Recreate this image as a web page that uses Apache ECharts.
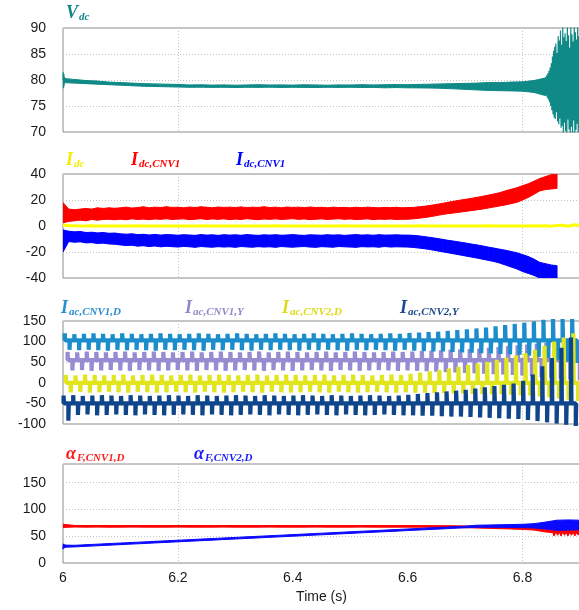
<!DOCTYPE html>
<html>
<head>
<meta charset="utf-8">
<script src="https://cdn.jsdelivr.net/npm/echarts@6/dist/echarts.min.js"></script>
<style>
  html, body { margin: 0; padding: 0; background: #ffffff; }
  #chart { width: 579px; height: 610px; }
</style>
</head>
<body>
<div id="chart"></div>
<script>
// ---------------- time axis ----------------
const timeRange = [6.0, 6.9, 0.2];          // min, max, tick step (s)
const timeAxisName = 'Time (s)';

// ---------------- panel 1: DC link voltage ----------------
const vdcRange = [70, 90, 5];
const vdcStep = 0.02;                        // envelope sample step from 6.00 s
const vdcLow = [79.5, 79.4, 79.3, 79.2, 79.1, 79.0, 78.9, 78.8, 78.75, 78.7,
  78.65, 78.6, 78.62, 78.58, 78.6, 78.55, 78.6, 78.58, 78.62, 78.56,
  78.6, 78.58, 78.55, 78.6, 78.57, 78.6, 78.55, 78.58, 78.5, 78.55,
  78.5, 78.48, 78.45, 78.4, 78.3, 78.2, 78.1, 78.0, 77.95, 77.9,
  77.85, 77.6, 77.0];
const vdcHigh = [80.3, 80.1, 79.9, 79.8, 79.6, 79.5, 79.4, 79.3, 79.25, 79.2,
  79.15, 79.05, 79.08, 79.02, 79.06, 79.0, 79.05, 79.1, 79.04, 79.06,
  79.02, 79.08, 79.05, 79.0, 79.06, 79.04, 79.1, 79.05, 79.1, 79.12,
  79.1, 79.15, 79.2, 79.25, 79.3, 79.35, 79.4, 79.5, 79.5, 79.6,
  79.65, 79.9, 80.4];
const vdcStart = [80.0, 81.5, 78.4, 81.2, 78.9, 80.6, 79.5, 80.2];      // from 6.000 s, 0.5 ms
const vdcBurst = [80.6, 77.0, 80.9, 76.6, 81.3, 76.2, 81.8, 75.7, 82.4, 75.0, 83.2,
  74.2, 84.5, 73.4, 85.6, 72.8, 86.4, 72.5, 87.0, 73.8, 85.2,
  72.0, 88.4, 71.5, 87.6, 72.6, 89.5, 70.8, 86.8, 71.2, 90.5,
  69.5, 88.2, 71.8, 89.0, 70.2, 87.5, 69.0, 91.0, 72.4, 88.6,
  70.5, 86.2, 69.2, 90.2, 71.0, 88.8, 69.6, 87.4, 72.2, 90.8,
  68.8, 89.2, 70.4, 87.8, 71.6, 91.2, 69.4, 88.4, 70.8, 86.6];          // from 6.840 s, 1 ms

// ---------------- panel 2: DC currents ----------------
const idcRange = [-40, 40, 20];
const idcStep = 0.01;
const idcTotal = [0.8, 0.2, 0.1, 0, 0, 0.1, 0, 0, 0, 0,
  0, 0, 0, 0.1, 0, 0, 0, 0, 0, 0,
  0, 0, 0, 0, 0, 0.1, 0, 0, 0, 0,
  0, 0, 0, 0, 0, 0, 0, 0.1, 0, 0,
  0, 0, 0, 0, 0, 0, 0, 0, 0, 0.1,
  0, 0, 0, 0, 0, 0, 0, 0, 0, 0,
  0, 0, 0.1, 0, 0, 0, 0, 0, 0, 0,
  0, 0, 0, 0, 0.1, 0, 0, 0, 0, 0,
  0, 0, 0.1, 0, 0.2, -0.1, 0.3, 0.5, -0.2, 0.9, 0.4];
const idcCnv1High = [18.0, 13.0, 12.5, 13.0, 13.5, 13.0, 14.0, 13.5, 14.0, 13.6,
  14.0, 14.5, 13.8, 14.2, 14.8, 14.0, 14.5, 14.2, 14.8, 14.3,
  14.5, 14.0, 14.6, 14.2, 14.8, 14.4, 14.0, 14.6, 14.3, 14.5,
  14.2, 14.7, 14.1, 14.5, 14.3, 14.8, 14.2, 14.5, 14.0, 14.6,
  14.3, 14.5, 14.1, 14.6, 14.2, 14.4, 14.0, 14.5, 14.2, 14.3,
  14.0, 14.4, 14.1, 14.5, 14.2, 14.0, 14.3, 14.1, 14.4, 14.0,
  14.2, 14.3, 14.8, 15.2, 15.9, 16.6, 17.4, 18.2, 19.0, 19.8,
  20.5, 21.2, 22.0, 22.8, 23.7, 24.6, 25.6, 27.0, 28.2, 29.4,
  31.0, 32.5, 34.5, 36.5, 38.0, 39.5, 41.0];
const idcCnv1Low = [2.5, 3.5, 4.0, 4.5, 4.0, 5.0, 4.5, 5.0, 5.2, 4.8,
  5.2, 4.8, 5.5, 5.0, 5.3, 4.9, 5.4, 5.1, 5.6, 5.0,
  5.3, 5.5, 4.9, 5.2, 5.6, 5.0, 5.4, 5.1, 5.5, 4.9,
  5.3, 5.0, 5.6, 5.2, 4.9, 5.4, 5.1, 5.5, 5.0, 5.3,
  5.6, 5.1, 5.4, 4.9, 5.2, 5.5, 5.0, 5.3, 5.6, 5.1,
  5.4, 5.0, 5.2, 5.5, 4.9, 5.3, 5.1, 5.4, 5.0, 5.2,
  5.2, 5.5, 6.0, 6.5, 7.2, 8.0, 8.8, 9.5, 10.0, 10.6,
  11.2, 11.8, 12.4, 13.0, 13.8, 14.6, 15.4, 16.2, 17.2, 18.2,
  20.0, 22.0, 24.5, 27.0, 28.0, 28.5, 29.0];
const idcCnv2High = [-3.0, -4.0, -4.5, -4.2, -5.0, -4.8, -5.3, -5.0, -5.6, -5.4,
  -6.0, -6.3, -6.0, -6.6, -6.4, -6.9, -6.5, -7.0, -6.6, -6.8,
  -7.1, -6.7, -6.9, -7.2, -6.6, -7.0, -6.8, -7.2, -6.7, -7.0,
  -6.8, -7.1, -6.6, -6.9, -7.2, -6.8, -7.0, -6.7, -7.1, -6.9,
  -6.6, -7.0, -7.2, -6.8, -6.9, -7.1, -6.7, -7.0, -6.8, -7.2,
  -6.9, -6.6, -7.0, -6.8, -7.1, -6.7, -7.0, -6.9, -6.8, -7.0,
  -7.0, -7.2, -7.6, -8.2, -8.8, -9.5, -10.2, -11.0, -11.6, -12.3,
  -13.0, -13.8, -14.5, -15.3, -16.2, -17.0, -17.8, -18.6, -19.6, -20.6,
  -22.0, -23.5, -25.5, -28.0, -29.0, -30.0, -30.5];
const idcCnv2Low = [-20.0, -12.0, -12.5, -12.2, -13.0, -12.8, -13.4, -13.2, -13.8, -14.0,
  -14.6, -15.0, -14.8, -15.5, -15.2, -15.8, -15.4, -16.0, -15.6, -15.9,
  -16.2, -15.7, -16.0, -16.4, -15.8, -16.1, -16.3, -15.9, -16.2, -16.0,
  -16.4, -15.8, -16.1, -16.3, -15.9, -16.2, -16.0, -16.4, -15.8, -16.1,
  -16.3, -16.0, -15.8, -16.2, -16.4, -15.9, -16.1, -16.3, -15.8, -16.0,
  -16.2, -16.4, -15.9, -16.1, -16.0, -16.3, -15.8, -16.2, -16.0, -16.1,
  -16.2, -16.5, -17.0, -17.5, -18.2, -19.0, -19.8, -20.6, -21.4, -22.2,
  -23.0, -23.8, -24.6, -25.5, -26.4, -27.3, -28.5, -30.0, -31.5, -33.0,
  -35.0, -36.5, -38.0, -40.0, -41.0, -42.0, -42.0];

// ---------------- panel 3: AC currents (per-cycle peaks) ----------------
const iacRange = [-100, 150, 50];
const acPeriod = 1 / 60;
const acBaseline = [103, 55, 0, -50];        // CNV1 D, CNV1 Y, CNV2 D, CNV2 Y
const acCnv1DUp = [120, 118, 119, 120, 119, 118, 120, 119, 118, 119,
  120, 119, 118, 119, 120, 119, 118, 119, 120, 119,
  118, 119, 120, 119, 118, 119, 120, 119, 118, 119,
  120, 119, 118, 119, 120, 119, 121, 122, 123, 124,
  126, 128, 130, 132, 134, 137, 140, 143, 146, 149,
  153, 156, 158, 160];
const acCnv1DDown = [80, 79, 80, 79, 78, 80, 79, 80, 79, 78,
  80, 79, 80, 79, 78, 80, 79, 80, 79, 78,
  80, 79, 80, 79, 78, 80, 79, 80, 79, 78,
  80, 79, 80, 79, 78, 80, 78, 77, 76, 76,
  75, 74, 73, 72, 71, 70, 69, 68, 66, 63,
  60, 56, 52, 48];
const acCnv1YUp = [75, 74, 76, 75, 74, 75, 76, 74, 75, 76,
  75, 74, 75, 76, 74, 75, 76, 75, 74, 75,
  76, 74, 75, 76, 75, 74, 75, 76, 74, 75,
  76, 75, 74, 75, 76, 75, 76, 77, 78, 79,
  80, 81, 82, 83, 85, 87, 89, 91, 93, 95,
  97, 99, 101, 103];
const acCnv1YDown = [30, 31, 29, 30, 31, 30, 29, 31, 30, 29,
  30, 31, 30, 29, 31, 30, 29, 30, 31, 30,
  29, 31, 30, 29, 30, 31, 30, 29, 31, 30,
  29, 30, 31, 30, 29, 30, 29, 28, 27, 26,
  25, 24, 23, 22, 21, 20, 19, 18, 16, 14,
  12, 10, 8, 6];
const acCnv2DUp = [19, 18, 20, 19, 18, 19, 20, 18, 19, 20,
  19, 18, 19, 20, 18, 19, 20, 19, 18, 19,
  20, 18, 19, 20, 19, 18, 19, 20, 18, 19,
  20, 19, 18, 19, 20, 19, 22, 25, 28, 31,
  35, 39, 43, 47, 51, 56, 61, 66, 72, 80,
  90, 100, 110, 120];
const acCnv2DDown = [-23, -22, -24, -23, -22, -23, -24, -22, -23, -24,
  -23, -22, -23, -24, -22, -23, -24, -23, -22, -23,
  -24, -22, -23, -24, -23, -22, -23, -24, -22, -23,
  -24, -23, -22, -23, -24, -23, -24, -24, -25, -25,
  -26, -26, -27, -27, -28, -28, -29, -30, -31, -33,
  -35, -38, -41, -44];
const acCnv2YUp = [-31, -30, -32, -31, -30, -31, -32, -30, -31, -32,
  -31, -30, -31, -32, -30, -31, -32, -31, -30, -31,
  -32, -30, -31, -32, -31, -30, -31, -32, -30, -31,
  -32, -31, -30, -31, -32, -31, -29, -27, -25, -23,
  -21, -19, -17, -14, -11, -8, -5, -2, 5, 20,
  40, 60, 85, 110];
const acCnv2YDown = [-92, -78, -77, -79, -78, -77, -78, -79, -77, -78,
  -79, -78, -77, -78, -79, -77, -78, -79, -78, -77,
  -78, -79, -77, -78, -79, -78, -77, -78, -79, -77,
  -78, -79, -78, -77, -78, -79, -79, -80, -80, -81,
  -82, -82, -83, -84, -85, -86, -87, -88, -90, -93,
  -96, -99, -102, -105];

// ---------------- panel 4: firing angles ----------------
const alphaRange = [0, 185, 50];
const alphaStep = 0.02;
const alphaCnv1Low = [66.5, 67.2, 67.0, 67.1, 66.9, 67.0, 67.1, 67.0, 66.9, 67.0,
  67.1, 67.0, 66.9, 67.0, 67.1, 67.0, 66.9, 67.0, 67.1, 67.0,
  66.9, 67.0, 67.1, 67.0, 66.9, 67.0, 67.1, 67.0, 66.9, 67.0,
  67.0, 66.9, 66.8, 66.7, 66.6, 66.0, 65.4, 64.8, 64.2, 63.6,
  62.8, 61.5, 58.0, 56.0, 55.5, 55.0];
const alphaCnv1High = [72.5, 70.2, 70.0, 70.1, 70.0, 69.9, 70.0, 70.1, 70.0, 69.9,
  70.0, 70.1, 70.0, 69.9, 70.0, 70.1, 70.0, 69.9, 70.0, 70.1,
  70.0, 69.9, 70.0, 70.1, 70.0, 69.9, 70.0, 70.1, 70.0, 69.9,
  70.0, 69.9, 69.8, 69.7, 69.6, 69.2, 68.8, 68.4, 68.0, 67.8,
  67.6, 67.8, 68.5, 69.0, 69.5, 70.0];
const alphaCnv2Low = [29.5, 30.1, 31.2, 32.2, 33.3, 34.3, 35.4, 36.4, 37.5, 38.5,
  39.6, 40.6, 41.7, 42.7, 43.8, 44.8, 45.9, 46.9, 48.0, 49.0,
  50.1, 51.1, 52.2, 53.2, 54.3, 55.3, 56.4, 57.4, 58.5, 59.5,
  60.6, 61.6, 62.7, 63.7, 64.8, 65.8, 66.8, 66.8, 66.6, 66.4,
  66.0, 65.5, 63.5, 61.0, 61.5, 62.0];
const alphaCnv2High = [33.5, 33.1, 34.2, 35.2, 36.3, 37.3, 38.4, 39.4, 40.5, 41.5,
  42.6, 43.6, 44.7, 45.7, 46.8, 47.8, 48.9, 49.9, 51.0, 52.0,
  53.1, 54.1, 55.2, 56.2, 57.3, 58.3, 59.4, 60.4, 61.5, 62.5,
  63.6, 64.6, 65.7, 66.7, 67.8, 68.8, 70.6, 71.0, 71.4, 71.8,
  72.4, 73.5, 76.5, 80.0, 80.5, 80.0];
const alphaCnv2Start = [26.0, 36.0, 28.0, 34.5, 29.5, 33.0];            // from 6.000 s, 1 ms
const alphaCnv1Teeth = [62, 51, 64, 52, 63, 51, 65, 52, 63, 51, 64, 52, 62, 51, 63, 52];   // from 6.852 s, 3 ms

// ---------------- trace labels ----------------
const panelLabels = [
  [{ main: 'V', sub: 'dc', color: '#12888a', x: 66, y: 3 }],
  [{ main: 'I', sub: 'dc', color: '#f2ee00', x: 66, y: 150 },
   { main: 'I', sub: 'dc,CNV1', color: '#ff0000', x: 131, y: 150 },
   { main: 'I', sub: 'dc,CNV1', color: '#0000ff', x: 236, y: 150 }],
  [{ main: 'I', sub: 'ac,CNV1,D', color: '#2a8fcf', x: 61, y: 298 },
   { main: 'I', sub: 'ac,CNV1,Y', color: '#9089c9', x: 185, y: 298 },
   { main: 'I', sub: 'ac,CNV2,D', color: '#dcdc18', x: 282, y: 298 },
   { main: 'I', sub: 'ac,CNV2,Y', color: '#1c4a8c', x: 400, y: 298 }],
  [{ main: '\u03B1', sub: 'F,CNV1,D', color: '#ff1a1a', x: 66, y: 444 },
   { main: '\u03B1', sub: 'F,CNV2,D', color: '#1a1aff', x: 194, y: 444 }]
];

// ---------------- helpers ----------------
function sampled(values, t0, dt) {
  return values.map((v, i) => [t0 + i * dt, v]);
}

function lineSeries(data, color, g, width, z) {
  return {
    type: 'line', xAxisIndex: g, yAxisIndex: g, data,
    showSymbol: false, symbol: 'none', clip: true, silent: true,
    lineStyle: { color, width }, z: z || 2
  };
}

// noisy trace drawn as a filled envelope between its lower and upper bounds
function band(low, high, t0, dt, color, g, z) {
  const data = low.map((l, i) => [t0 + i * dt, l, high[i]]);
  return {
    type: 'custom', xAxisIndex: g, yAxisIndex: g, z, silent: true, clip: true,
    encode: { x: 0, y: [1, 2] },
    data,
    renderItem(params, api) {
      const i = params.dataIndex;
      if (i >= data.length - 1) return null;
      const a = data[i], b = data[i + 1];
      const pts = [
        api.coord([a[0], a[1]]), api.coord([a[0], a[2]]),
        api.coord([b[0], b[2]]), api.coord([b[0], b[1]])
      ];
      return {
        type: 'polygon',
        shape: { points: echarts.graphic.clipPointsByRect(pts, params.coordSys) },
        style: { fill: color, stroke: color, lineWidth: 1 }
      };
    }
  };
}

// AC current: baseline with one positive and one negative spike per cycle
function pulseTrain(base, ups, downs, t0, period) {
  const pts = [];
  const w = 0.0008;
  ups.forEach((u, k) => {
    const t = t0 + k * period;
    const th = t + period / 2;
    pts.push([t, base], [t, u], [t + w, u], [t + w, base],
             [th, base], [th, downs[k]], [th + w, downs[k]], [th + w, base]);
  });
  return pts;
}

// ---------------- layout ----------------
const grids = [
  { top: 28, height: 104 },
  { top: 174, height: 104 },
  { top: 321, height: 103 },
  { top: 464, height: 99 }
].map(g => Object.assign({
  left: 63, right: -1, show: true, borderColor: '#8c8c8c', borderWidth: 1,
  backgroundColor: 'transparent', containLabel: false, outerBoundsMode: 'none'
}, g));

const gridLineColor = '#c4c4c4';
const hidden = 'rgba(0,0,0,0)';
const xAxes = grids.map((g, i) => ({
  type: 'value', gridIndex: i,
  min: timeRange[0], max: timeRange[1], interval: timeRange[2],
  axisLine: { show: false }, axisTick: { show: false },
  axisLabel: {
    show: i === 3, showMaxLabel: false, margin: 8,
    fontSize: 14, color: '#1a1a1a', fontFamily: 'Liberation Sans, Arial, sans-serif',
    formatter: v => String(+v.toFixed(1))
  },
  name: i === 3 ? timeAxisName : '',
  nameLocation: 'middle', nameGap: 27, nameMoveOverlap: false,
  nameTextStyle: { fontSize: 14, color: '#1a1a1a', fontFamily: 'Liberation Sans, Arial, sans-serif' },
  splitLine: {
    show: true,
    lineStyle: { color: [hidden, gridLineColor, hidden, hidden, gridLineColor, hidden], type: [1, 2], width: 1 }
  }
}));

const ranges = [vdcRange, idcRange, iacRange, alphaRange];
const yAxes = ranges.map((r, i) => ({
  type: 'value', gridIndex: i, min: r[0], max: r[1], interval: r[2],
  axisLine: { show: false }, axisTick: { show: false },
  axisLabel: {
    margin: 17, fontSize: 14, color: '#1a1a1a', showMaxLabel: i !== 3,
    fontFamily: 'Liberation Sans, Arial, sans-serif'
  },
  splitLine: { show: true, lineStyle: { color: gridLineColor, type: [1, 2], width: 1 } }
}));

// ---------------- series ----------------
const series = [];
// panel 1
series.push(band(vdcLow, vdcHigh, 6.0, vdcStep, '#0f8a86', 0, 2));
series.push(lineSeries(sampled(vdcStart, 6.0, 0.0005), '#0f8a86', 0, 1.2, 3));
series.push(lineSeries(sampled(vdcBurst, 6.84, 0.001), '#0f8a86', 0, 1.2, 3));
// panel 2
series.push(band(idcCnv1Low, idcCnv1High, 6.0, idcStep, '#ff0000', 1, 2));
series.push(band(idcCnv2Low, idcCnv2High, 6.0, idcStep, '#0000ff', 1, 2));
series.push(lineSeries(sampled(idcTotal, 6.0, idcStep), '#ffff00', 1, 3, 3));
// panel 3
series.push(lineSeries(pulseTrain(acBaseline[1], acCnv1YUp, acCnv1YDown, 6.008, acPeriod), '#968cd2', 2, 4.2, 2));
series.push(lineSeries(pulseTrain(acBaseline[0], acCnv1DUp, acCnv1DDown, 6.003, acPeriod), '#1b8dcc', 2, 4.2, 3));
series.push(lineSeries(pulseTrain(acBaseline[2], acCnv2DUp, acCnv2DDown, 6.005, acPeriod), '#e0e51e', 2, 4.2, 4));
series.push(lineSeries(pulseTrain(acBaseline[3], acCnv2YUp, acCnv2YDown, 6.001, acPeriod), '#0e458b', 2, 4.2, 5));
// panel 4
series.push(band(alphaCnv1Low, alphaCnv1High, 6.0, alphaStep, '#ff0000', 3, 2));
series.push(lineSeries(sampled(alphaCnv1Teeth, 6.852, 0.003), '#ff0000', 3, 1.5, 2));
series.push(band(alphaCnv2Low, alphaCnv2High, 6.0, alphaStep, '#0a0aff', 3, 3));
series.push(lineSeries(sampled(alphaCnv2Start, 6.0, 0.001), '#0a0aff', 3, 1.5, 3));

// ---------------- trace labels (italic symbol + subscript) ----------------
const graphic = [];
panelLabels.forEach(row => row.forEach(l => {
  graphic.push({
    type: 'text', x: l.x, y: l.y, silent: true, z: 10,
    style: {
      text: '{m|' + l.main + '}{s|' + l.sub + '}',
      fill: l.color,
      rich: {
        m: { fontFamily: 'Liberation Serif, Times New Roman, serif', fontStyle: 'italic', fontWeight: 'bold',
             fontSize: 18, lineHeight: 20, fill: l.color },
        s: { fontFamily: 'Liberation Serif, Times New Roman, serif', fontStyle: 'italic', fontWeight: 'bold',
             fontSize: 11, lineHeight: 11, padding: [9, 0, 0, 1], fill: l.color }
      }
    }
  });
}));

const chart = echarts.init(document.getElementById('chart'), null, { renderer: 'canvas' });
chart.setOption({
  animation: false,
  backgroundColor: '#ffffff',
  textStyle: { fontFamily: 'Liberation Sans, Arial, sans-serif' },
  grid: grids,
  xAxis: xAxes,
  yAxis: yAxes,
  series,
  graphic
});
</script>
</body>
</html>
